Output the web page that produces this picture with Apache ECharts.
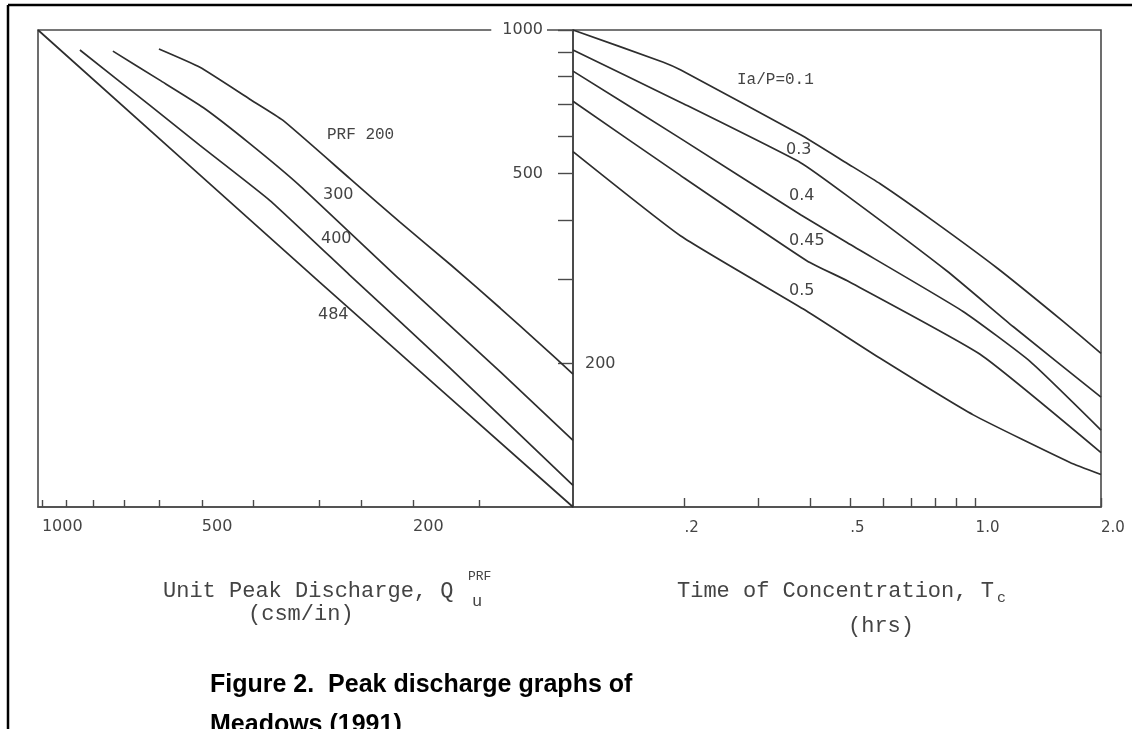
<!DOCTYPE html>
<html><head><meta charset="utf-8">
<script src="https://cdn.jsdelivr.net/npm/echarts@6/dist/echarts.min.js"></script>
<style>html,body{margin:0;padding:0;background:#fff}#c{width:1132px;height:729px}</style>
</head><body><div id="c"></div>
<script>
// ---- tick values / labels ----
const yTicks = [1000, 900, 800, 700, 600, 500, 400, 300, 200];
const yLabelsLeft = [1000, 500];
const yLabelsRight = [200];
const quTicks = [1000, 900, 800, 700, 600, 500, 400, 300, 250, 200, 150];
const quLabels = [1000, 500, 200];
const tcTicks = [0.2, 0.3, 0.4, 0.5, 0.6, 0.7, 0.8, 0.9, 1.0, 2.0];
const tcLabels = [0.2, 0.5, 1.0, 2.0];
const tcLabelText = ['.2', '.5', '1.0', '2.0'];

// ---- left panel: unit peak discharge (csm/in) vs peak discharge, by PRF ----
const prfNames = ['PRF 200', '300', '400', '484'];
const prf200 = [[602, 912], [504, 835], [406, 716], [352, 647], [263, 488], [212, 396], [170, 322], [137, 261], [115, 219], [100, 190]];
const prf300 = [[735, 903], [600, 785], [497, 688], [406, 578], [327, 472], [212, 300], [137, 192], [100, 138]];
const prf400 = [[848, 908], [626, 695], [504, 573], [372, 439], [263, 306], [170, 195], [100, 111]];
const prf484 = [[1017, 1000], [300, 296], [100, 100]];

// ---- right panel: time of concentration (hrs) vs peak discharge, by Ia/P ----
const iaNames = ['Ia/P=0.1', '0.3', '0.4', '0.45', '0.5'];
const ia01 = [[0.108, 1000], [0.178, 856], [0.196, 824], [0.38, 603], [0.492, 525], [0.59, 476], [0.791, 398], [1.126, 317], [1.622, 245], [2.0, 210]];
const ia03 = [[0.108, 908], [0.196, 705], [0.38, 527], [0.492, 449], [0.855, 312], [1.23, 239], [2.0, 170]];
const ia04 = [[0.108, 820], [0.196, 592], [0.38, 410], [0.492, 358], [0.933, 257], [1.351, 202], [2.0, 145]];
const ia045 = [[0.108, 709], [0.196, 495], [0.394, 328], [0.492, 298], [1.025, 209], [2.0, 130]];
const ia05 = [[0.108, 556], [0.196, 370], [0.386, 260], [0.59, 205], [0.987, 156], [1.685, 124], [2.0, 117]];

const lineCol = '#2e2e2e';
const axisCol = '#4a4a4a';
const txtCol = '#444';

function curve(name, data, gi) {
  return {
    name: name, type: 'line', xAxisIndex: gi, yAxisIndex: gi, data: data,
    symbol: 'none', smooth: 0.15, silent: true,
    lineStyle: { color: lineCol, width: 1.7 }
  };
}
function tcFmt(v) {
  for (let i = 0; i < tcLabels.length; i++) if (Math.abs(tcLabels[i] - v) < 1e-6) return tcLabelText[i];
  return '';
}
function plainFmt(v) { return String(Math.round(v)); }

const chart = echarts.init(document.getElementById('c'), null, { renderer: 'canvas' });
const option = {
  animation: false,
  backgroundColor: '#fff',
  grid: [
    { left: 38, right: 559, top: 30, height: 477, show: true, borderColor: axisCol, borderWidth: 1.6, backgroundColor: 'transparent' },
    { left: 573, right: 31, top: 30, height: 477, show: true, borderColor: axisCol, borderWidth: 1.6, backgroundColor: 'transparent' }
  ],
  xAxis: [
    {
      gridIndex: 0, type: 'log', logBase: 10, inverse: true, min: 100, max: 1017,
      axisLine: { show: true, lineStyle: { color: axisCol, width: 1.6 } },
      axisTick: { show: true, inside: true, length: 7, customValues: quTicks, lineStyle: { color: axisCol, width: 1.4 } },
      axisLabel: { show: true, customValues: quLabels, formatter: plainFmt, align: 'left', margin: 12, fontFamily: 'DejaVu Sans', fontSize: 16, color: txtCol },
      splitLine: { show: false }
    },
    {
      gridIndex: 1, type: 'log', logBase: 10, min: 0.108, max: 2,
      axisLine: { show: true, lineStyle: { color: axisCol, width: 1.6 } },
      axisTick: { show: true, inside: true, length: 9, customValues: tcTicks, lineStyle: { color: axisCol, width: 1.4 } },
      axisLabel: { show: true, customValues: tcLabels, formatter: tcFmt, align: 'left', margin: 14, fontFamily: 'DejaVu Sans', fontSize: 15, color: txtCol },
      splitLine: { show: false }
    }
  ],
  yAxis: [
    {
      gridIndex: 0, type: 'log', logBase: 10, min: 100, max: 1000, position: 'right',
      axisLine: { show: true, lineStyle: { color: axisCol, width: 1.6 } },
      axisTick: { show: true, inside: true, length: 15, customValues: yTicks, lineStyle: { color: axisCol, width: 1.4 } },
      axisLabel: { show: true, inside: true, customValues: yLabelsLeft, formatter: plainFmt, margin: 26, fontFamily: 'DejaVu Sans', fontSize: 16, color: txtCol,
        backgroundColor: '#fff', padding: [3, 4, 3, 11] },
      splitLine: { show: false }
    },
    {
      gridIndex: 1, type: 'log', logBase: 10, min: 100, max: 1000, position: 'left',
      axisLine: { show: false }, axisTick: { show: false },
      axisLabel: { show: true, inside: true, customValues: yLabelsRight, formatter: plainFmt, margin: 12, fontFamily: 'DejaVu Sans', fontSize: 16, color: txtCol },
      splitLine: { show: false }
    }
  ],
  series: [
    curve(prfNames[0], prf200, 0), curve(prfNames[1], prf300, 0), curve(prfNames[2], prf400, 0), curve(prfNames[3], prf484, 0),
    curve(iaNames[0], ia01, 1), curve(iaNames[1], ia03, 1), curve(iaNames[2], ia04, 1), curve(iaNames[3], ia045, 1), curve(iaNames[4], ia05, 1)
  ],
  graphic: [
    // outer frame
    { type: 'line', shape: { x1: 8, y1: 5, x2: 1132, y2: 5 }, style: { stroke: '#000', lineWidth: 2.5 }, silent: true },
    { type: 'line', shape: { x1: 8, y1: 5, x2: 8, y2: 729 }, style: { stroke: '#000', lineWidth: 2.5 }, silent: true },
    // curve annotations
    { type: 'text', x: 327, y: 135, style: { text: prfNames[0], font: '16px "Liberation Mono"', fill: txtCol, textVerticalAlign: 'middle' } },
    { type: 'text', x: 323, y: 195, style: { text: prfNames[1], font: '16px "DejaVu Sans"', fill: txtCol, textVerticalAlign: 'middle' } },
    { type: 'text', x: 321, y: 239, style: { text: prfNames[2], font: '16px "DejaVu Sans"', fill: txtCol, textVerticalAlign: 'middle' } },
    { type: 'text', x: 318, y: 315, style: { text: prfNames[3], font: '16px "DejaVu Sans"', fill: txtCol, textVerticalAlign: 'middle' } },
    { type: 'text', x: 737, y: 80, style: { text: iaNames[0], font: '16px "Liberation Mono"', fill: txtCol, textVerticalAlign: 'middle' } },
    { type: 'text', x: 786, y: 150, style: { text: iaNames[1], font: '16px "DejaVu Sans"', fill: txtCol, textVerticalAlign: 'middle' } },
    { type: 'text', x: 789, y: 196, style: { text: iaNames[2], font: '16px "DejaVu Sans"', fill: txtCol, textVerticalAlign: 'middle' } },
    { type: 'text', x: 789, y: 241, style: { text: iaNames[3], font: '16px "DejaVu Sans"', fill: txtCol, textVerticalAlign: 'middle' } },
    { type: 'text', x: 789, y: 291, style: { text: iaNames[4], font: '16px "DejaVu Sans"', fill: txtCol, textVerticalAlign: 'middle' } },
    // axis titles
    { type: 'text', x: 163, y: 591, style: { text: 'Unit Peak Discharge, Q', font: '22px "Liberation Mono"', fill: txtCol, textVerticalAlign: 'middle' } },
    { type: 'text', x: 468, y: 577, style: { text: 'PRF', font: '13px "Liberation Mono"', fill: txtCol, textVerticalAlign: 'middle' } },
    { type: 'text', x: 472, y: 601, style: { text: 'u', font: '17px "Liberation Mono"', fill: txtCol, textVerticalAlign: 'middle' } },
    { type: 'text', x: 248, y: 614, style: { text: '(csm/in)', font: '22px "Liberation Mono"', fill: txtCol, textVerticalAlign: 'middle' } },
    { type: 'text', x: 677, y: 591, style: { text: 'Time of Concentration, T', font: '22px "Liberation Mono"', fill: txtCol, textVerticalAlign: 'middle' } },
    { type: 'text', x: 997, y: 598, style: { text: 'c', font: '15px "Liberation Mono"', fill: txtCol, textVerticalAlign: 'middle' } },
    { type: 'text', x: 848, y: 626, style: { text: '(hrs)', font: '22px "Liberation Mono"', fill: txtCol, textVerticalAlign: 'middle' } },
    // figure caption
    { type: 'text', x: 210, y: 685, style: { text: 'Figure 2.  Peak discharge graphs of', font: 'bold 25px "Liberation Sans"', fill: '#000', textVerticalAlign: 'middle' } },
    { type: 'text', x: 210, y: 725, style: { text: 'Meadows (1991)', font: 'bold 25px "Liberation Sans"', fill: '#000', textVerticalAlign: 'middle' } }
  ]
};
chart.setOption(option);
</script>
</body></html>
